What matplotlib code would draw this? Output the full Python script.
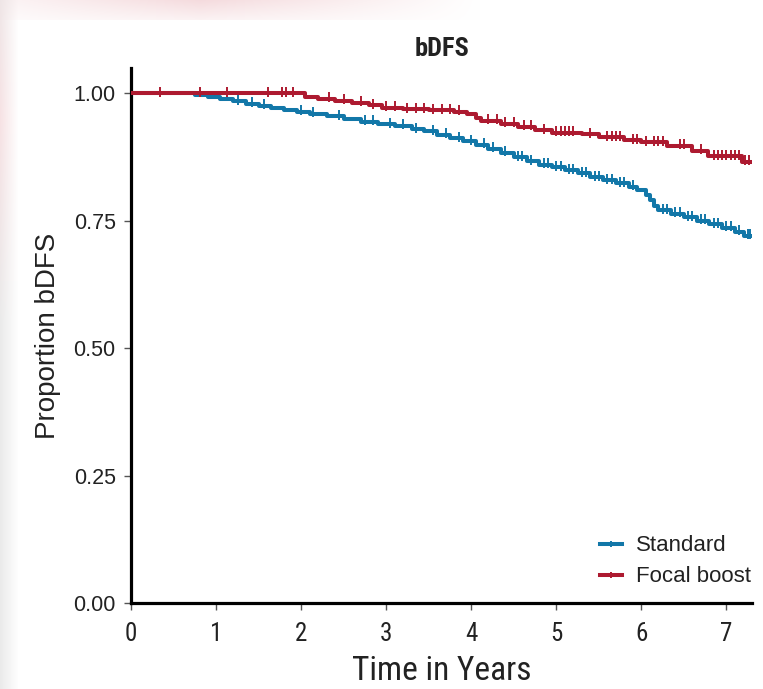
import numpy as np
import matplotlib
matplotlib.use("Agg")
import matplotlib.pyplot as plt
from matplotlib.lines import Line2D
from matplotlib import font_manager

#step times (years) and survival for each arm
std_times = [0, 0.75, 0.9, 1.05, 1.2, 1.35, 1.5, 1.65, 1.8, 1.95, 2.1, 2.3, 2.5, 2.7, 2.9, 3.1,
             3.3, 3.45, 3.6, 3.75, 3.9, 4.05, 4.2, 4.35, 4.5, 4.65, 4.8, 4.95, 5.1, 5.25, 5.4,
             5.55, 5.7, 5.85, 5.95, 6.05, 6.1, 6.15, 6.2, 6.35, 6.5, 6.65, 6.8, 6.95, 7.1, 7.2]
std_surv = [1.000, 0.997, 0.993, 0.989, 0.985, 0.980, 0.976, 0.972, 0.968, 0.964, 0.960, 0.955,
            0.949, 0.944, 0.940, 0.937, 0.930, 0.926, 0.919, 0.912, 0.906, 0.899, 0.892, 0.884,
            0.875, 0.867, 0.860, 0.855, 0.849, 0.843, 0.836, 0.830, 0.824, 0.817, 0.810, 0.800,
            0.790, 0.779, 0.771, 0.764, 0.757, 0.750, 0.743, 0.736, 0.729, 0.721]
std_censor = [1.26, 1.42, 1.56, 2.0, 2.14, 2.45, 2.75, 2.85, 3.05, 3.2, 3.35, 3.55, 3.7, 3.85,
              4.0, 4.15, 4.25, 4.4, 4.55, 4.6, 4.7, 4.85, 4.9, 5.0, 5.05, 5.15, 5.2, 5.3, 5.35,
              5.45, 5.5, 5.6, 5.65, 5.75, 5.8, 5.9, 6.25, 6.3, 6.4, 6.45, 6.55, 6.6, 6.7, 6.75,
              6.85, 6.9, 7.0, 7.05, 7.15, 7.25, 7.28]

boost_times = [0, 2.05, 2.2, 2.4, 2.6, 2.8, 2.95, 3.2, 3.5, 3.8, 3.95, 4.05, 4.12, 4.35, 4.55,
               4.75, 4.95, 5.3, 5.5, 5.8, 6.0, 6.3, 6.6, 6.78, 7.18]
boost_surv = [1.000, 0.994, 0.990, 0.986, 0.982, 0.977, 0.972, 0.969, 0.967, 0.964, 0.959, 0.952,
              0.946, 0.941, 0.935, 0.928, 0.923, 0.920, 0.914, 0.908, 0.904, 0.897, 0.888, 0.877,
              0.866]
boost_censor = [0.34, 0.81, 1.13, 1.61, 1.78, 1.82, 1.91, 2.33, 2.5, 2.7, 2.85, 3.0, 3.1, 3.25,
                3.35, 3.45, 3.55, 3.65, 3.75, 3.85, 4.2, 4.3, 4.4, 4.5, 4.62, 4.7, 4.85, 5.0,
                5.05, 5.1, 5.15, 5.2, 5.4, 5.6, 5.65, 5.7, 5.75, 5.9, 5.95, 6.05, 6.15, 6.2, 6.25,
                6.45, 6.5, 6.7, 6.85, 6.9, 6.95, 7.0, 7.05, 7.1, 7.15, 7.22, 7.27]

labels = ["Standard", "Focal boost"]
colors = ["#1277a8", "#ad1a30"]
x_end = 7.3

#pick a condensed face if one is installed
names = set(f.name for f in font_manager.fontManager.ttflist)
cond_stretch = "normal"
if "Liberation Sans Narrow" in names:
    NARROW = ["Liberation Sans Narrow", "DejaVu Sans"]
elif "Roboto Condensed" in names:
    NARROW = ["Roboto Condensed", "DejaVu Sans"]
else:
    fp = font_manager.FontProperties(family="DejaVu Sans", stretch="condensed")
    if "Condensed" in font_manager.findfont(fp):
        NARROW = ["DejaVu Sans"]
        cond_stretch = "condensed"
    else:
        NARROW = ["Liberation Sans", "DejaVu Sans"]
ARIAL = ["Liberation Sans", "DejaVu Sans"]
TXT = "#222222"


def step_value(times, surv, t):
    #value of the KM step function at time t
    idx = np.searchsorted(times, t, side="right") - 1
    return np.asarray(surv)[idx]


fig = plt.figure(figsize=(7.63, 6.89), dpi=100)

#faded page background round the white panel
bg = np.ones((689, 763, 3))
xs = np.arange(763)
pink = np.array([0.96, 0.86, 0.87])
fade = np.clip(1 - np.abs(xs - 200) / 280.0, 0, 1)
for r in range(20):
    a = fade * (1 - r / 30.0)
    bg[r] = (1 - a[:, None]) + a[:, None] * pink
ys = np.arange(689)
for c in range(18):
    w = 0.8 * (1 - c / 18.0)
    top = np.clip(1 - np.abs(ys - 120) / 200.0, 0, 1)
    col = top[:, None] * pink + (1 - top[:, None]) * np.array([0.90, 0.90, 0.90])
    bg[:, c] = (1 - w) * bg[:, c] + w * col
bgax = fig.add_axes([0, 0, 1, 1])
bgax.imshow(bg, aspect="auto")
bgax.axis("off")

ax = fig.add_axes([0.1717, 0.1248, 0.8139, 0.7765])
series = [(std_times, std_surv, std_censor), (boost_times, boost_surv, boost_censor)]
handles = []
for (times, surv, cens), lab, col in zip(series, labels, colors):
    t = list(times) + [x_end]
    s = list(surv) + [surv[-1]]
    ax.step(t, s, where="post", color=col, lw=2.9, zorder=3)
    ax.plot(cens, step_value(times, surv, cens) + 0.003, linestyle="none", marker="|",
            markersize=7.5, markeredgewidth=1.4, color=col, zorder=3)
    handles.append(Line2D([0], [0], color=col, lw=2.9, marker="|", markersize=5,
                          markeredgewidth=1.4))

ax.set_xlim(0, x_end)
ax.set_ylim(0, 1.05)
ax.set_xticks(range(8))
ax.set_yticks([0, 0.25, 0.5, 0.75, 1.0])
ax.set_yticklabels(["0.00", "0.25", "0.50", "0.75", "1.00"])
for sp in ["top", "right"]:
    ax.spines[sp].set_visible(False)
for sp in ["left", "bottom"]:
    ax.spines[sp].set_linewidth(2.3)
    ax.spines[sp].set_color("black")
ax.tick_params(length=5, width=1, color="#555555")
ax.tick_params(axis="x", pad=9)
ax.tick_params(axis="y", pad=6)
for lbl in ax.get_yticklabels():
    lbl.set_fontfamily(ARIAL)
    lbl.set_fontsize(15.5)
    lbl.set_color(TXT)
for lbl in ax.get_xticklabels():
    lbl.set_fontfamily(NARROW)
    lbl.set_fontstretch(cond_stretch)
    lbl.set_fontsize(18)
    lbl.set_color(TXT)

ax.set_title("bDFS", fontfamily=NARROW, fontstretch=cond_stretch, fontweight="bold",
             fontsize=19, pad=9, color=TXT)
ax.set_xlabel("Time in Years", fontfamily=NARROW, fontstretch=cond_stretch, fontsize=24,
              color=TXT, labelpad=6)
ax.set_ylabel("Proportion bDFS", fontfamily=ARIAL, fontsize=20, color=TXT, labelpad=9)

leg = ax.legend(handles, labels, loc="lower right", bbox_to_anchor=(1.03, -0.008),
                frameon=False, prop={"family": ARIAL, "size": 16}, handlelength=1.0,
                handletextpad=0.6, labelspacing=0.45)
for txt in leg.get_texts():
    txt.set_color(TXT)

plt.savefig("out.png", dpi=100)
